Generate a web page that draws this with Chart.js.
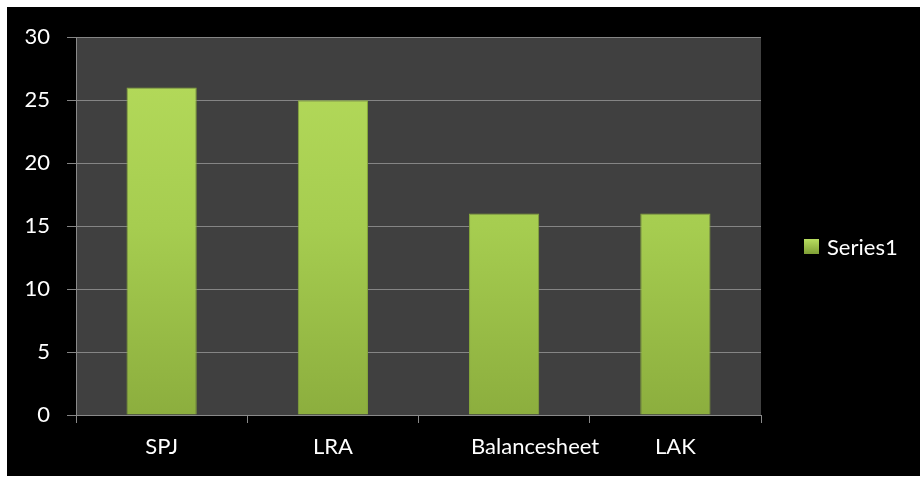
<!DOCTYPE html>
<html>
<head>
<meta charset="utf-8">
<script src="https://cdn.jsdelivr.net/npm/chart.js@4/dist/chart.umd.min.js"></script>
<style>
  html, body { margin: 0; padding: 0; background: #ffffff; }
  #frame { position: absolute; left: 7px; top: 7px; width: 913px; height: 469px; background: #000000; }
  #c { display: block; }
</style>
</head>
<body>
<div id="frame"><canvas id="c" width="913" height="469"></canvas></div>
<script>
const categories = ["SPJ", "LRA", "Balancesheet", "LAK"];
const seriesName = "Series1";
const seriesValues = [26, 25, 16, 16];
const yTicks = [0, 5, 10, 15, 20, 25, 30];

const FONT = "Lato, 'Open Sans', sans-serif";
const FSIZE = 22;

const plotBg = {
  id: 'plotBg',
  beforeDraw(chart) {
    const { ctx, chartArea: a } = chart;
    ctx.save();
    ctx.fillStyle = '#404040';
    ctx.fillRect(a.left, a.top, a.right - a.left, a.bottom - a.top);
    ctx.restore();
  }
};

const sideLegend = {
  id: 'sideLegend',
  afterDraw(chart) {
    const { ctx } = chart;
    const ds = chart.data.datasets[0];
    const bx = 797, by = 232, s = 15;
    ctx.save();
    const g = ctx.createLinearGradient(0, by, 0, by + s);
    g.addColorStop(0, '#b8de60');
    g.addColorStop(1, '#7f9f35');
    ctx.fillStyle = g;
    ctx.fillRect(bx, by, s, s);
    ctx.fillStyle = '#ffffff';
    ctx.font = FSIZE + 'px ' + FONT;
    ctx.textBaseline = 'middle';
    ctx.fillText(ds.label, 820, by + s / 2 + 1);
    ctx.restore();
  }
};

function barGradient(context) {
  const chart = context.chart;
  const a = chart.chartArea;
  if (!a) return '#a4cc50';
  const g = chart.ctx.createLinearGradient(0, a.top, 0, a.bottom);
  g.addColorStop(0, '#b6dc5c');
  g.addColorStop(0.5, '#a6cd50');
  g.addColorStop(1, '#8cae3e');
  return g;
}

new Chart(document.getElementById('c'), {
  type: 'bar',
  data: {
    labels: categories,
    datasets: [{
      label: seriesName,
      data: seriesValues,
      backgroundColor: barGradient,
      borderColor: '#86a83a',
      borderWidth: 1,
      barPercentage: 0.41,
      categoryPercentage: 1.0
    }]
  },
  options: {
    responsive: false,
    animation: false,
    devicePixelRatio: 1,
    layout: { padding: { top: 30, right: 159, bottom: 0, left: 0 } },
    plugins: { legend: { display: false }, tooltip: { enabled: false } },
    scales: {
      x: {
        offset: true,
        grid: { display: true, drawOnChartArea: false, offset: true, color: '#8a8a8a', tickLength: 8, lineWidth: 1 },
        border: { display: true, color: '#8a8a8a', width: 1 },
        ticks: {
          color: '#ffffff', font: { family: FONT, size: FSIZE }, padding: 11, maxRotation: 0, autoSkip: false,
          // the reference draws the long third label shifted right of its slot
          callback(v, i) { const t = categories[i]; return i === 2 ? ' '.repeat(11) + t : t; }
        },
        afterFit(scale) { scale.height = 61; }
      },
      y: {
        min: 0, max: 30,
        afterBuildTicks(scale) { scale.ticks = yTicks.map(v => ({ value: v })); },
        grid: { color: '#858585', lineWidth: 1, tickLength: 9 },
        border: { display: true, color: '#8a8a8a', width: 1 },
        ticks: { color: '#ffffff', font: { family: FONT, size: FSIZE }, padding: 17 },
        afterFit(scale) { scale.width = 69; }
      }
    }
  },
  plugins: [plotBg, sideLegend]
});
</script>
</body>
</html>
